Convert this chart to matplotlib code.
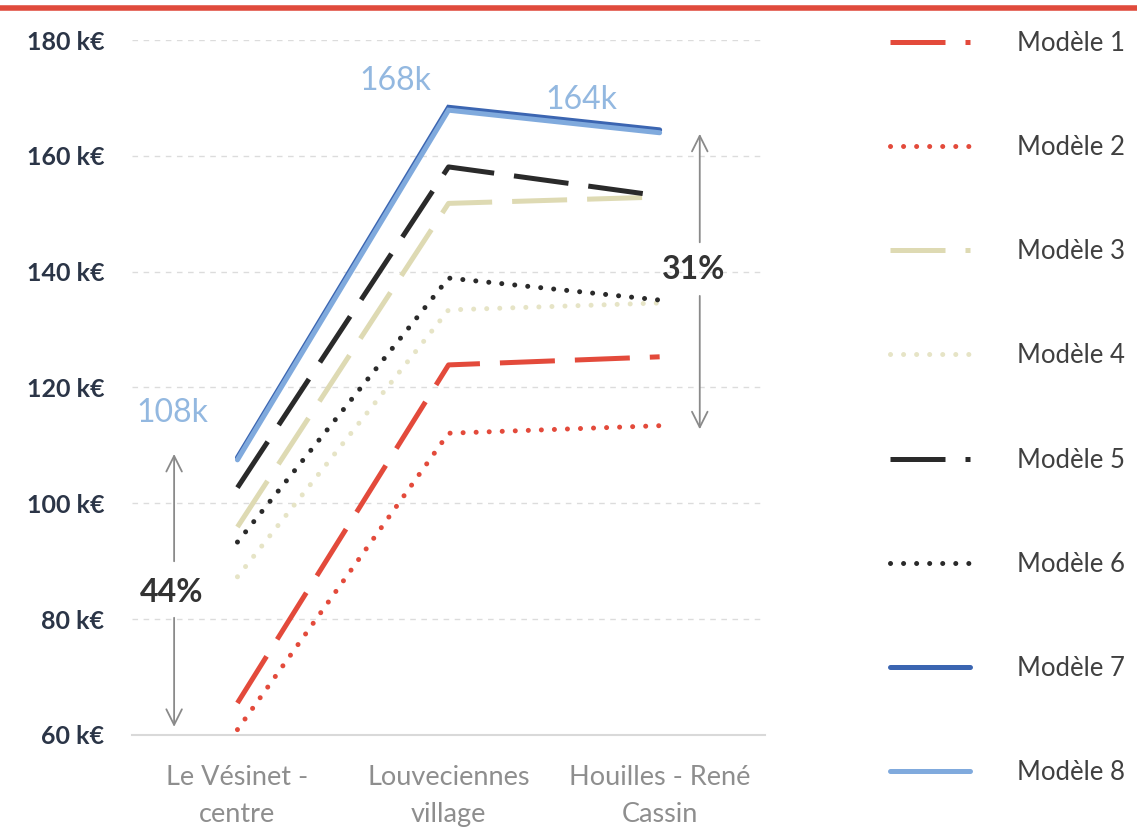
import matplotlib
matplotlib.use("Agg")
import matplotlib.pyplot as plt
from matplotlib.lines import Line2D

categories = ["Le Vésinet -\ncentre", "Louveciennes\nvillage", "Houilles - René\nCassin"]
labels = ["Modèle 1", "Modèle 2", "Modèle 3", "Modèle 4",
          "Modèle 5", "Modèle 6", "Modèle 7", "Modèle 8"]
m1 = [65.5, 123.9, 125.3]
m2 = [60.9, 112.1, 113.4]
m3 = [95.9, 151.8, 152.9]
m4 = [87.3, 133.4, 134.6]
m5 = [102.7, 158.1, 153.1]
m6 = [93.3, 138.9, 135.1]
m7 = [107.9, 168.4, 164.5]
m8 = [107.5, 167.9, 164.0]
yticks = [60, 80, 100, 120, 140, 160, 180]
ytick_labels = ["60 k€", "80 k€", "100 k€", "120 k€", "140 k€", "160 k€", "180 k€"]
value_labels = ["108k", "168k", "164k"]
pct_labels = ["44%", "31%"]

RED = "#e34a3b"
BEIGE = "#dedab3"
BEIGE_L = "#e6e4c6"
BLACK = "#2a2a2a"
DBLUE = "#3b65b1"
LBLUE = "#80aadd"

plt.rcParams['font.family'] = ['Lato', 'DejaVu Sans']

fig = plt.figure(figsize=(11.37, 8.36), dpi=100)
ax = fig.add_axes([0.116, 0.121, 0.557, 0.831])
x = list(range(len(categories)))

lw = 3.6
dash = (0, (11, 4))
dot = (0, (0.01, 2.6))

series = [
    (m1, RED, dash, 'butt'),
    (m2, RED, dot, 'round'),
    (m3, BEIGE, dash, 'butt'),
    (m4, BEIGE_L, dot, 'round'),
    (m5, BLACK, dash, 'butt'),
    (m6, BLACK, dot, 'round'),
    (m7, DBLUE, '-', 'round'),
    (m8, LBLUE, '-', 'round'),
]
handles = []
for (vals, col, ls, cap), lab in zip(series, labels):
    ln, = ax.plot(x, vals, color=col, lw=lw, linestyle=ls, label=lab,
                  dash_capstyle=cap, solid_capstyle='round', solid_joinstyle='miter')
    handles.append(ln)

ax.set_xlim(-0.5, 2.5)
ax.set_ylim(60, 180)
ax.set_yticks(yticks)
ax.set_yticklabels(ytick_labels, fontsize=18, fontweight='bold', color="#2b3547")
ax.set_xticks(x)
ax.set_xticklabels(categories, fontsize=19.5, color="#8e8e8e", linespacing=1.6)
ax.tick_params(axis='y', length=0, pad=20)
ax.tick_params(axis='x', length=0, pad=22)
for s in ["top", "right", "left"]:
    ax.spines[s].set_visible(False)
ax.spines["bottom"].set_color("#d9d9d9")
ax.spines["bottom"].set_linewidth(1.5)
ax.yaxis.grid(True, color="#dcdcdc", linestyle=(0, (4, 4)), linewidth=1.0)
ax.set_axisbelow(True)

# value labels
lab_pos = [(-0.31, 115.6), (0.75, 173.0), (1.63, 169.6)]
for (lx, ly), t in zip(lab_pos, value_labels):
    ax.text(lx, ly, t, color="#93b8e0", fontsize=23,
            ha='center', va='center')

# percentage arrows
arrow_kw = dict(arrowstyle='->', color="#8a8a8a", lw=1.3, mutation_scale=28)
ax.annotate("", xy=(-0.30, 109.0), xytext=(-0.30, 89.5), arrowprops=arrow_kw)
ax.annotate("", xy=(-0.30, 60.9), xytext=(-0.30, 80.7), arrowprops=arrow_kw)
ax.text(-0.31, 84.6, pct_labels[0], fontsize=23, fontweight='bold', color="#333333",
        ha='center', va='center')
ax.annotate("", xy=(2.19, 164.3), xytext=(2.19, 144.6), arrowprops=arrow_kw)
ax.annotate("", xy=(2.19, 112.3), xytext=(2.19, 136.3), arrowprops=arrow_kw)
ax.text(2.16, 140.3, pct_labels[1], fontsize=23, fontweight='bold', color="#333333",
        ha='center', va='center')

# top red bar
fig.add_artist(Line2D([0, 1], [1 - 8 / 836, 1 - 8 / 836], transform=fig.transFigure,
                      color="#e04b3c", lw=4))

leg = fig.legend(handles=handles, loc='upper left',
                 bbox_to_anchor=(890 / 1137, 1 - 31 / 836), frameon=False,
                 fontsize=18.5, labelspacing=3.08, handlelength=3.1,
                 handletextpad=1.83, borderpad=0, borderaxespad=0)
for t in leg.get_texts():
    t.set_color("#404040")

fig.savefig("out.png", dpi=100)
